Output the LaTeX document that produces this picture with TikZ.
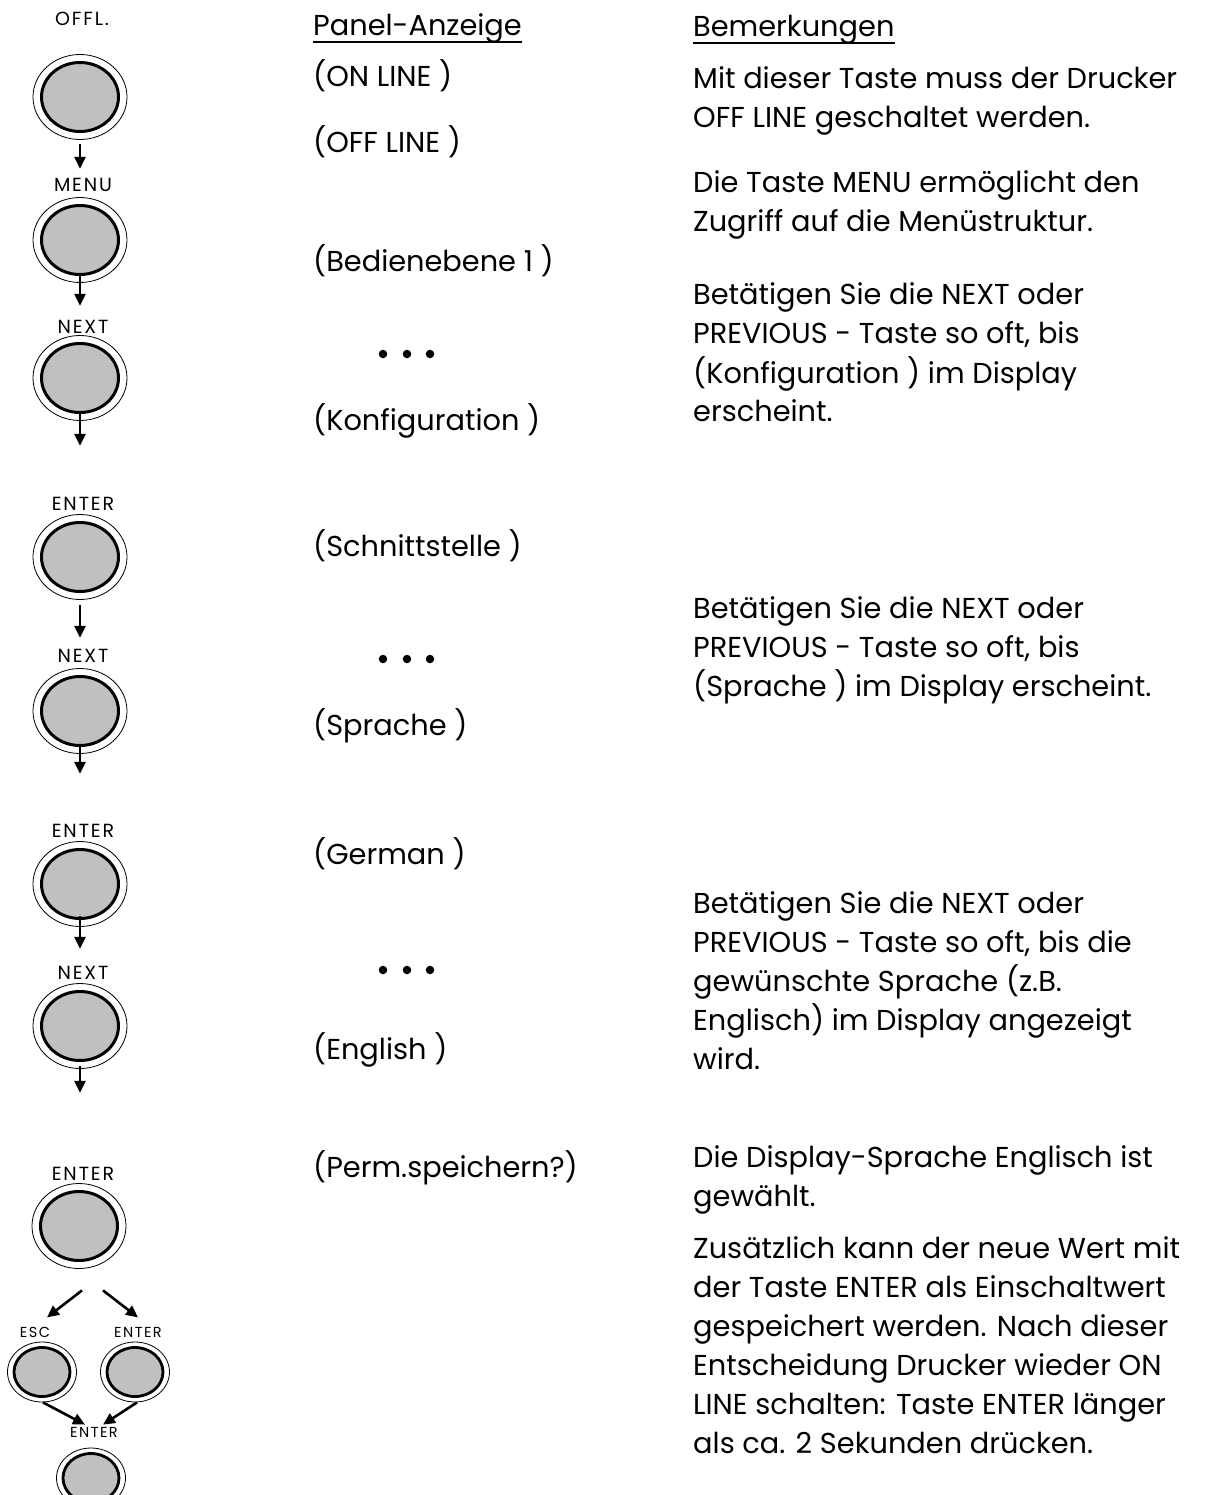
\documentclass[tikz,border=0pt]{standalone}
\usepackage{fontspec}
\setmainfont{Poppins}
\newfontfamily\lblfont{Poppins}[LetterSpace=10]
\usetikzlibrary{arrows.meta,calc,shapes.geometric}
\definecolor{btngray}{RGB}{192,192,192}
\tikzset{
  btn/.style={ellipse, draw, line width=0.8pt, minimum width=94pt, minimum height=85pt, inner sep=0pt,
    path picture={\draw[line width=3pt, fill=btngray] (path picture bounding box.center) ellipse [x radius=38.5pt, y radius=34.5pt];}},
  sbtn/.style={ellipse, draw, line width=0.8pt, minimum width=69pt, minimum height=60pt, inner sep=0pt,
    path picture={\draw[line width=2.8pt, fill=btngray] (path picture bounding box.center) ellipse [x radius=28pt, y radius=24.5pt];}},
  lbl/.style={anchor=base, inner sep=0pt, font=\lblfont\fontsize{19}{19}\selectfont},
  slbl/.style={anchor=base, inner sep=0pt, font=\lblfont\fontsize{14.5}{14.5}\selectfont},
  txt/.style={anchor=base west, inner sep=0pt, font=\fontsize{28.8}{39}\selectfont},
  arr/.style={line width=2.6pt, -{Triangle[length=12pt,width=11pt]}},
  dotmark/.style={circle, fill, inner sep=0pt, minimum size=8.5pt},
  uline/.style={line width=1.4pt}
}
\newcommand{\blk}[1]{\parbox[t]{600pt}{\raggedright\fontsize{28.8}{39}\selectfont #1}}
\begin{document}
\begin{tikzpicture}[x=1pt,y=-1pt]
\useasboundingbox (0,0) rectangle (1219,1495);
% buttons
\node[btn] (b1) at (80,97) {};
\node[btn] (b2) at (80,240) {};
\node[btn] (b3) at (80,378) {};
\node[btn] (b4) at (80,557) {};
\node[btn] (b5) at (80,711) {};
\node[btn] (b6) at (80,884) {};
\node[btn] (b7) at (80,1026) {};
\node[btn] (b8) at (79,1226) {};
\node[sbtn] (esc) at (42,1372) {};
\node[sbtn] (ent) at (135,1372) {};
\node[sbtn] (fin) at (91,1478) {};
% button labels
\node[lbl] (l1) at (82,26) {OFFL.};
\node[lbl] (l2) at (83,192) {MENU};
\node[lbl] (l3) at (83,333) {NEXT};
\node[lbl] (l4) at (83,510) {ENTER};
\node[lbl] (l5) at (83,662) {NEXT};
\node[lbl] (l6) at (83,837) {ENTER};
\node[lbl] (l7) at (83,979) {NEXT};
\node[lbl] (l8) at (83,1180) {ENTER};
\node[slbl] (l9) at (35,1337) {ESC};
\node[slbl] (l10) at (138,1337) {ENTER};
\node[slbl] (l11) at (94,1437) {ENTER};
% arrows
\draw[arr] ($(b1.south)+(0,4)$) -- ($(b1.south)+(0,29)$);
\draw[arr] ($(b2.south)+(0,-10)$) -- ($(b2.south)+(0,23)$);
\draw[arr] ($(b3.south)+(0,-10)$) -- ($(b3.south)+(0,25)$);
\draw[arr] ($(b4.south)+(0,5)$) -- ($(b4.south)+(0,38)$);
\draw[arr] ($(b5.south)+(0,-10)$) -- ($(b5.south)+(0,20)$);
\draw[arr] ($(b6.south)+(0,-11)$) -- ($(b6.south)+(0,22)$);
\draw[arr] ($(b7.south)+(0,-3)$) -- ($(b7.south)+(0,24)$);
\draw[arr] ($(b8.south)+(3,21.5)$) -- ($(b8.south)+(-32,48.5)$);
\draw[arr] ($(b8.south)+(24,21.5)$) -- ($(b8.south)+(59,48.5)$);
\draw[arr] ($(esc.south)+(1,0)$) -- ($(fin.north)+(-6,-23)$);
\draw[arr] ($(ent.south)+(2,0)$) -- ($(fin.north)+(12,-23)$);
% left column
\node[txt] (h1) at (313,36) {Panel-Anzeige};
\draw[uline] ($(h1.base west)+(0,6)$) -- ($(h1.base east)+(0,6)$);
\node[txt] (p1) at (313,87) {(ON LINE )};
\node[txt] (p2) at (313,153) {(OFF LINE )};
\node[txt] (p3) at (313,272) {(Bedienebene 1 )};
\node[dotmark] (d1a) at (383,354) {};
\node[dotmark] (d1b) at (407,354) {};
\node[dotmark] (d1c) at (430,354) {};
\node[txt] (p4) at (313,430) {(Konfiguration )};
\node[txt] (p5) at (313,556) {(Schnittstelle )};
\node[dotmark] (d2a) at (383,659) {};
\node[dotmark] (d2b) at (407,659) {};
\node[dotmark] (d2c) at (430,659) {};
\node[txt] (p6) at (313,735) {(Sprache )};
\node[txt] (p7) at (313,864) {(German )};
\node[dotmark] (d3a) at (383,970) {};
\node[dotmark] (d3b) at (407,970) {};
\node[dotmark] (d3c) at (430,970) {};
\node[txt] (p8) at (313,1059) {(English )};
\node[txt] (p9) at (313,1177) {(Perm.speichern?)};
% right column
\node[txt] (h2) at (693,37) {Bemerkungen};
\draw[uline] ($(h2.base west)+(0,6)$) -- ($(h2.base east)+(0,6)$);
\node[txt] (r1) at (693,89) {\blk{Mit dieser Taste muss der Drucker\\OFF LINE geschaltet werden.}};
\node[txt] (r2) at (693,193) {\blk{Die Taste MENU ermöglicht den\\Zugriff auf die Menüstruktur.}};
\node[txt] (r3) at (693,305) {\blk{Betätigen Sie die NEXT oder\\PREVIOUS - Taste so oft, bis\\(Konfiguration ) im Display\\erscheint.}};
\node[txt] (r4) at (693,618) {\blk{Betätigen Sie die NEXT oder\\PREVIOUS - Taste so oft, bis\\(Sprache ) im Display erscheint.}};
\node[txt] (r5) at (693,913) {\blk{Betätigen Sie die NEXT oder\\PREVIOUS - Taste so oft, bis die\\gewünschte Sprache (z.B.\\Englisch) im Display angezeigt\\wird.}};
\node[txt] (r6) at (693,1167) {\blk{Die Display-Sprache Englisch ist\\gewählt.}};
\node[txt] (r7) at (693,1258) {\blk{Zusätzlich kann der neue Wert mit\\der Taste ENTER als Einschaltwert\\gespeichert werden. Nach dieser\\Entscheidung Drucker wieder ON\\LINE schalten: Taste ENTER länger\\als ca. 2 Sekunden drücken.}};
\end{tikzpicture}
\end{document}
